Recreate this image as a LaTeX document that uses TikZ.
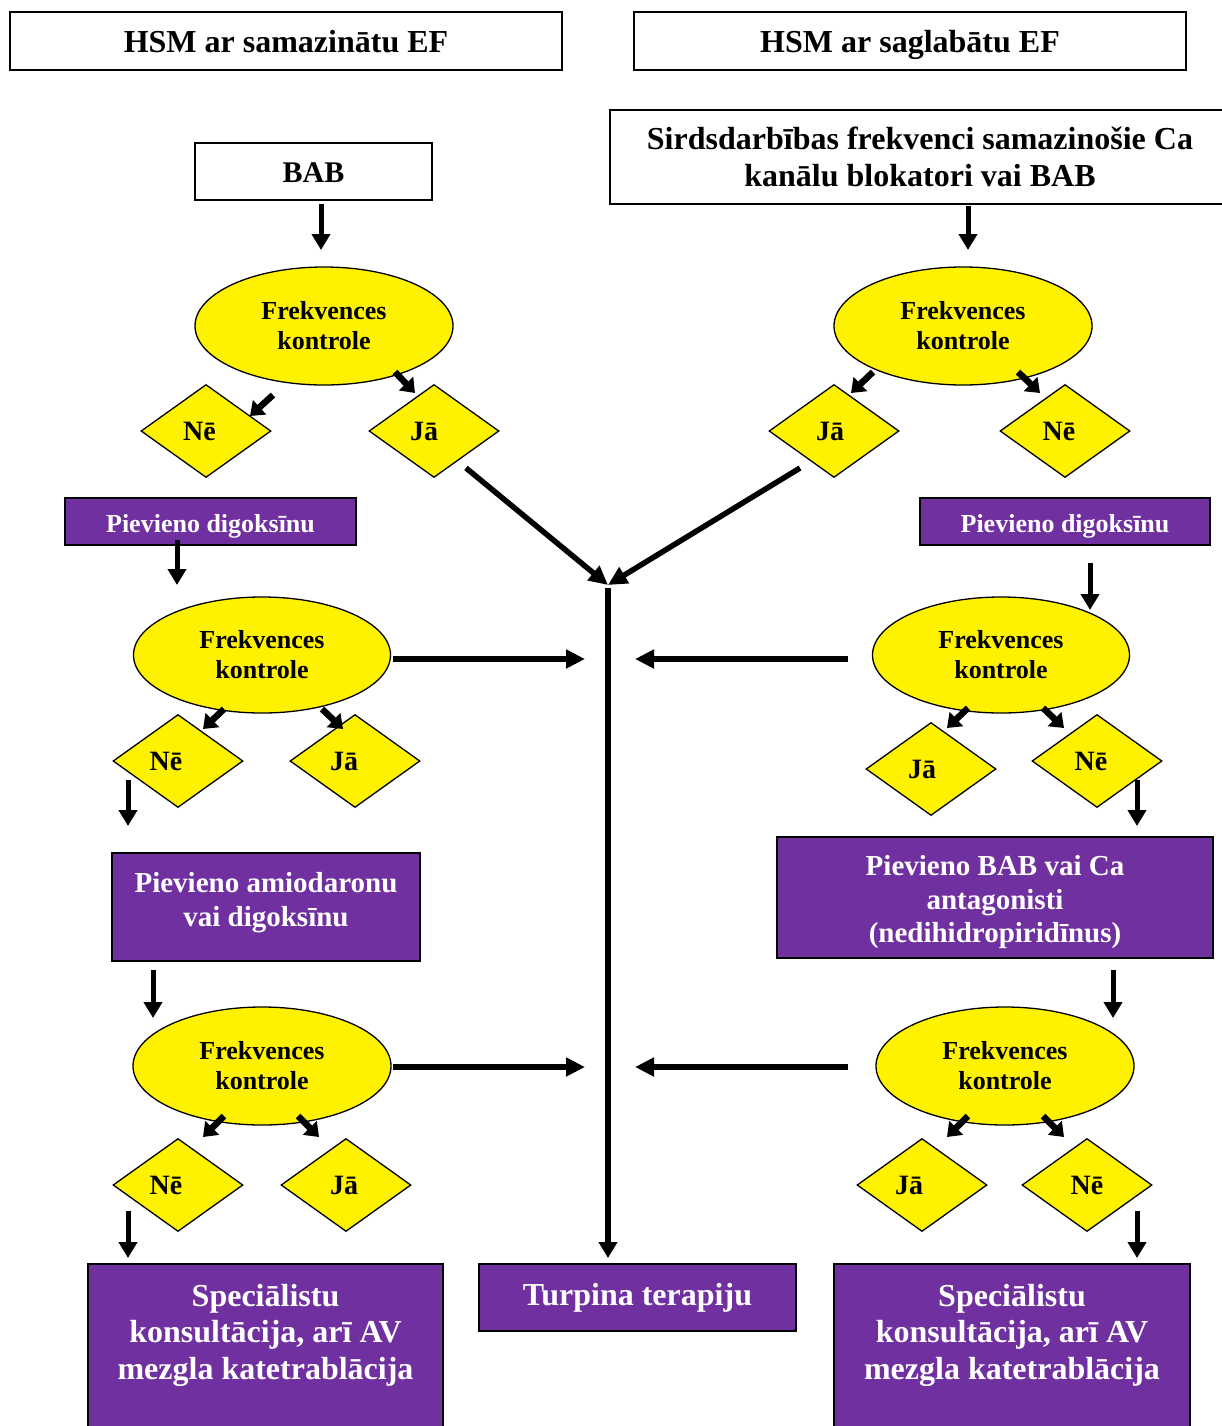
\documentclass[tikz,border=0pt]{standalone}
\usepackage{fontspec}
\setmainfont{Liberation Serif}
\usetikzlibrary{shapes.geometric,arrows.meta,calc}
\definecolor{vio}{HTML}{7030A0}
\begin{document}
\begin{tikzpicture}[x=1pt,y=-1pt,
 box/.style={draw, line width=1.6pt, rectangle, inner sep=0pt, align=center,
   font=\bfseries\fontsize{32}{37}\selectfont},
 pbox/.style={box, fill=vio, text=white},
 wtxt/.style={inner sep=0pt, align=center, text=white},
 ell/.style={ellipse, draw, fill=yellow, line width=1.3pt, minimum width=258pt,
   minimum height=118pt, inner sep=0pt, align=center,
   font=\bfseries\fontsize{26}{30}\selectfont},
 dia/.style={diamond, draw, fill=yellow, line width=1.3pt, minimum width=130pt,
   minimum height=93pt, inner sep=0pt, aspect=1.4,
   font=\bfseries\fontsize{28}{32}\selectfont},
 arr/.style={line width=5pt, -{Triangle[length=16pt,width=18pt]}},
 sarr/.style={line width=6.5pt, -{Triangle[length=13pt,width=19pt]}},
 harr/.style={line width=5.5pt, -{Triangle[length=19pt,width=18pt]}},
]
\useasboundingbox (0,0) rectangle (1221,1426);

% headers
\node[box, minimum width=552pt, minimum height=58pt, text height=26pt, text depth=3pt] (hL) at (286,41) {HSM ar samazinātu EF};
\node[box, minimum width=552pt, minimum height=58pt, text height=26pt, text depth=3pt] (hR) at (910,41) {HSM ar saglabātu EF};

% top boxes
\node[box, minimum width=237pt, minimum height=57pt, text height=24pt, text depth=3pt, font=\bfseries\fontsize{30}{35}\selectfont] (bab) at (313.5,171.5) {BAB};
\node[box, minimum width=620pt, minimum height=94pt] (sirds) at (920,157) {\raisebox{-4pt}{Sirdsdarbības frekvenci samazinošie Ca}\\\raisebox{-4pt}{kanālu blokatori vai BAB}};

% row 1
\node[ell] (e1L) at (324,326) {\raisebox{-2pt}{Frekvences}\\\raisebox{-2pt}{kontrole}};
\node[ell] (e1R) at (963,326) {\raisebox{-2pt}{Frekvences}\\\raisebox{-2pt}{kontrole}};
\node[dia] (d1LN) at (206,431) {\kern-13pt Nē};
\node[dia] (d1LJ) at (434,431) {\kern-20pt Jā};
\node[dia] (d1RJ) at (834,431) {\kern-8pt Jā};
\node[dia] (d1RN) at (1065,431) {\kern-12pt Nē};

\node[pbox, minimum width=291pt, minimum height=47pt, text height=23pt, text depth=1pt, font=\bfseries\fontsize{26}{30}\selectfont] (pdL) at (210.5,521.5) {Pievieno digoksīnu};
\node[pbox, minimum width=290pt, minimum height=47pt, text height=23pt, text depth=1pt, font=\bfseries\fontsize{26}{30}\selectfont] (pdR) at (1065,521.5) {Pievieno digoksīnu};

% row 2
\node[ell, minimum width=257pt, minimum height=116pt] (e2L) at (262,655) {Frekvences\\kontrole};
\node[ell, minimum width=257pt, minimum height=116pt] (e2R) at (1001,655) {Frekvences\\kontrole};
\node[dia] (d2LN) at (178,761) {\kern-24pt Nē};
\node[dia] (d2LJ) at (355,761) {\kern-22pt Jā};
\node[dia] (d2RJ) at (931,769) {\kern-18pt Jā};
\node[dia] (d2RN) at (1097,761) {\kern-12pt Nē};

\node[pbox, minimum width=308pt, minimum height=108pt] (amL) at (266,907) {};
\node[wtxt, font=\bfseries\fontsize{29}{34}\selectfont] (amLt) at (266,903) {Pievieno amiodaronu\\vai digoksīnu};
\node[pbox, minimum width=436pt, minimum height=121pt] (babR) at (995,897.5) {};
\node[wtxt, font=\bfseries\fontsize{29}{33.5}\selectfont] (babRt) at (995,902.5) {Pievieno BAB vai Ca\\antagonisti\\(nedihidropiridīnus)};

% row 3
\node[ell] (e3L) at (262,1066) {\raisebox{-2pt}{Frekvences}\\\raisebox{-2pt}{kontrole}};
\node[ell] (e3R) at (1005,1066) {\raisebox{-2pt}{Frekvences}\\\raisebox{-2pt}{kontrole}};
\node[dia] (d3LN) at (178,1185) {\kern-24pt Nē};
\node[dia] (d3LJ) at (346,1185) {\kern-4pt Jā};
\node[dia] (d3RJ) at (922,1185) {\kern-26pt Jā};
\node[dia] (d3RN) at (1087,1185) {Nē};

% bottom boxes
\node[pbox, minimum width=355pt, minimum height=176pt] (spL) at (265.5,1352) {};
\node[wtxt, font=\bfseries\fontsize{32}{36.5}\selectfont] (spLt) at (265.5,1335) {Speciālistu\\konsultācija, arī AV\\mezgla katetrablācija};
\node[pbox, minimum width=317pt, minimum height=67pt, text height=23pt, text depth=7pt] (tur) at (637.5,1297.5) {Turpina terapiju};
\node[pbox, minimum width=356pt, minimum height=176pt] (spR) at (1012,1352) {};
\node[wtxt, font=\bfseries\fontsize{32}{36.5}\selectfont] (spRt) at (1012,1335) {Speciālistu\\konsultācija, arī AV\\mezgla katetrablācija};

% junction coordinates
\coordinate (jt) at (608,585);
\coordinate (hL2) at (585,659);
\coordinate (hR2) at (635,659);
\coordinate (hL3) at (585,1067);
\coordinate (hR3) at (635,1067);

% arrows
\draw[arr] ($(bab)+(7.5,32.5)$) -- ($(e1L)+(-3,-76)$);
\draw[arr] ($(sirds)+(48,49)$) -- ($(e1R)+(5,-76)$);
\draw[sarr] ($(e1L)+(-51,69)$) -- ($(d1LN)+(44,-15)$);
\draw[sarr] ($(e1L)+(71,46)$) -- ($(d1LJ)+(-19,-38)$);
\draw[sarr] ($(e1R)+(-90,46)$) -- ($(d1RJ)+(17,-38)$);
\draw[sarr] ($(e1R)+(55,46)$) -- ($(d1RN)+(-25,-38)$);
\draw[harr] ($(d1LJ)+(32,37)$) -- (jt);
\draw[harr] ($(d1RJ)+(-34,37)$) -- (jt);
\draw[arr] ($(pdL)+(-33.5,18.5)$) -- ($(e2L)+(-85,-70)$);
\draw[arr] ($(pdR)+(25,41.5)$) -- ($(e2R)+(89,-45)$);
\draw[harr] ($(e2L)+(131,4)$) -- (hL2);
\draw[harr] ($(e2R)+(-153,4)$) -- (hR2);
\draw[sarr] ($(e2L)+(-38,54)$) -- ($(d2LN)+(25,-32)$);
\draw[sarr] ($(e2L)+(60,54)$) -- ($(d2LJ)+(-12,-32)$);
\draw[sarr] ($(e2R)+(-33,53)$) -- ($(d2RJ)+(16,-41)$);
\draw[sarr] ($(e2R)+(42,53)$) -- ($(d2RN)+(-33,-33)$);
\draw[arr] ($(d2LN)+(-50,19)$) -- ($(amL)+(-138,-81)$);
\draw[arr] ($(d2RN)+(40,19)$) -- ($(babR)+(142,-71.5)$);
\draw[arr] ($(amL)+(-113,63)$) -- ($(e3L)+(-109,-48)$);
\draw[arr] ($(babR)+(118,72.5)$) -- ($(e3R)+(108,-48)$);
\draw[harr] ($(e3L)+(131,1)$) -- (hL3);
\draw[harr] ($(e3R)+(-157,1)$) -- (hR3);
\draw[sarr] ($(e3L)+(-38,50)$) -- ($(d3LN)+(25,-48)$);
\draw[sarr] ($(e3L)+(36,50)$) -- ($(d3LJ)+(-27,-48)$);
\draw[sarr] ($(e3R)+(-37,50)$) -- ($(d3RJ)+(25,-48)$);
\draw[sarr] ($(e3R)+(38,50)$) -- ($(d3RN)+(-23,-48)$);
\draw[arr] ($(d3LN)+(-50,26)$) -- ($(spL)+(-137.5,-94)$);
\draw[arr] ($(d3RN)+(50,26)$) -- ($(spR)+(125,-94)$);
\draw[arr, line width=5.5pt] ($(jt)+(0,3)$) -- ($(tur)+(-29.5,-39.5)$);
\end{tikzpicture}
\end{document}
